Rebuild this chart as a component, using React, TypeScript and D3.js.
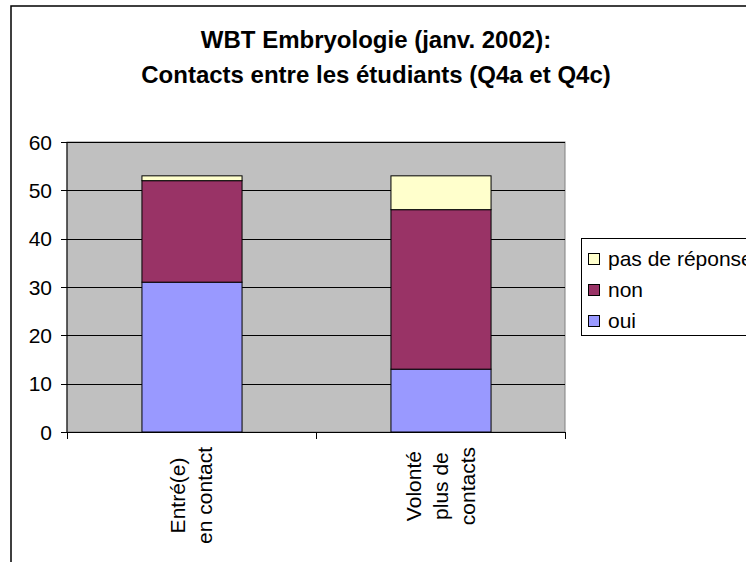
import React, { useEffect, useRef } from 'react';
import * as d3 from 'd3';

// données
const categories = ['Entré(e) en contact', 'Volonté plus de contacts'];
const categoryLines = [['Entré(e)', 'en contact'], ['Volonté', 'plus de', 'contacts']];
const seriesNames = ['oui', 'non', 'pas de réponse'];
const oui = [31, 13];
const non = [21, 33];
const pasDeReponse = [1, 7];
const seriesColors = ['#9999FF', '#993366', '#FFFFCC'];
const yTicks = [0, 10, 20, 30, 40, 50, 60];
const titleLines = ['WBT Embryologie (janv. 2002):', 'Contacts entre les étudiants (Q4a et Q4c)'];

const FONT = '"Liberation Sans", Arial, sans-serif';

export default function App() {
    const svgRef = useRef<SVGSVGElement | null>(null);

    useEffect(() => {
        document.body.style.margin = '0';
        const width = 746;
        const height = 562;
        const plot = { left: 67, right: 565, top: 142, bottom: 432 };

        const svg = d3.select(svgRef.current);
        svg.html('');
        svg.attr('width', width).attr('height', height);

        // cadre du graphique
        svg.append('rect')
            .attr('x', 11).attr('y', 6)
            .attr('width', 800).attr('height', 620)
            .attr('fill', '#fff')
            .attr('stroke', '#000').attr('stroke-width', 1.5);

        // titre
        svg.append('g').selectAll('text')
            .data(titleLines)
            .join('text')
            .attr('x', 376)
            .attr('y', (d, i) => 48 + i * 35)
            .attr('text-anchor', 'middle')
            .style('font-family', FONT)
            .style('font-size', '24px')
            .style('font-weight', 'bold')
            .text(d => d);

        const x = d3.scaleBand<string>()
            .domain(categories)
            .range([plot.left, plot.right])
            .paddingInner(0.598)
            .paddingOuter(0.299);

        const y = d3.scaleLinear().domain([0, 60]).range([plot.bottom, plot.top]);

        // zone de traçage
        svg.append('rect')
            .attr('x', plot.left).attr('y', plot.top)
            .attr('width', plot.right - plot.left).attr('height', plot.bottom - plot.top)
            .attr('fill', '#C0C0C0')
            .attr('stroke', '#808080').attr('stroke-width', 1);

        // quadrillage
        svg.append('g').selectAll('line')
            .data(yTicks.filter(t => t > 0))
            .join('line')
            .attr('x1', plot.left).attr('x2', plot.right)
            .attr('y1', d => Math.round(y(d)) + 0.5).attr('y2', d => Math.round(y(d)) + 0.5)
            .attr('stroke', '#000').attr('stroke-width', 1);

        // barres empilées
        const rows = categories.map((c, i) => ({ cat: c, oui: oui[i], non: non[i], pas: pasDeReponse[i] }));
        const stack = d3.stack<any>().keys(['oui', 'non', 'pas']);
        const layers = stack(rows);

        svg.append('g').selectAll('g')
            .data(layers)
            .join('g')
            .attr('fill', (d, i) => seriesColors[i])
            .selectAll('rect')
            .data(d => d)
            .join('rect')
            .attr('x', d => (x(d.data.cat) as number) + 0.5)
            .attr('width', x.bandwidth())
            .attr('y', d => y(d[1]))
            .attr('height', d => y(d[0]) - y(d[1]))
            .attr('stroke', '#000')
            .attr('stroke-width', 1);

        // axe Y
        const yAxis = svg.append('g');
        yAxis.append('line')
            .attr('x1', plot.left).attr('x2', plot.left)
            .attr('y1', plot.top).attr('y2', plot.bottom)
            .attr('stroke', '#000');
        yAxis.selectAll('line.tick')
            .data(yTicks)
            .join('line')
            .attr('class', 'tick')
            .attr('x1', plot.left - 6).attr('x2', plot.left)
            .attr('y1', d => Math.round(y(d)) + 0.5).attr('y2', d => Math.round(y(d)) + 0.5)
            .attr('stroke', '#000');
        yAxis.selectAll('text')
            .data(yTicks)
            .join('text')
            .attr('x', 52)
            .attr('y', d => y(d))
            .attr('dy', '0.36em')
            .attr('text-anchor', 'end')
            .style('font-family', FONT)
            .style('font-size', '21px')
            .text(d => d);

        // axe X
        const xAxis = svg.append('g');
        xAxis.append('line')
            .attr('x1', plot.left).attr('x2', plot.right)
            .attr('y1', plot.bottom + 0.5).attr('y2', plot.bottom + 0.5)
            .attr('stroke', '#000');
        const step = x.step();
        const boundaries = [0, 1, 2].map(i => plot.left + i * step);
        xAxis.selectAll('line.tick')
            .data(boundaries)
            .join('line')
            .attr('class', 'tick')
            .attr('x1', d => Math.round(d) + 0.5).attr('x2', d => Math.round(d) + 0.5)
            .attr('y1', plot.bottom).attr('y2', plot.bottom + 7)
            .attr('stroke', '#000');

        const lineGap = 27;
        const labelTop = 447;
        categories.forEach((c, ci) => {
            const lines = categoryLines[ci];
            const cx = (x(c) as number) + x.bandwidth() / 2;
            const g = xAxis.append('g');
            const texts = g.selectAll('text')
                .data(lines)
                .join('text')
                .attr('text-anchor', 'middle')
                .style('font-family', FONT)
                .style('font-size', '21px')
                .text(d => d);
            let maxLen = 0;
            texts.each(function () {
                maxLen = Math.max(maxLen, (this as SVGTextElement).getComputedTextLength());
            });
            const midY = labelTop + maxLen / 2;
            texts.attr('transform', (d, i) => {
                const lx = cx + (i - (lines.length - 1) / 2) * lineGap + 7;
                return `translate(${lx},${midY}) rotate(-90)`;
            });
        });

        // légende
        const legend = svg.append('g');
        legend.append('rect')
            .attr('x', 581.5).attr('y', 238.5)
            .attr('width', 300).attr('height', 97)
            .attr('fill', '#fff')
            .attr('stroke', '#000').attr('stroke-width', 1);
        const legendOrder = [2, 1, 0];
        const items = legend.selectAll('g.item')
            .data(legendOrder)
            .join('g')
            .attr('class', 'item')
            .attr('transform', (d, i) => `translate(0,${258.5 + i * 31})`);
        items.append('rect')
            .attr('x', 588.5).attr('y', -5)
            .attr('width', 11).attr('height', 11)
            .attr('fill', d => seriesColors[d])
            .attr('stroke', '#000').attr('stroke-width', 1);
        items.append('text')
            .attr('x', 608)
            .attr('y', 0)
            .attr('dy', '0.36em')
            .style('font-family', FONT)
            .style('font-size', '21px')
            .text(d => seriesNames[d]);
    }, []);

    return <svg ref={svgRef} style={{ display: 'block' }}></svg>;
}
